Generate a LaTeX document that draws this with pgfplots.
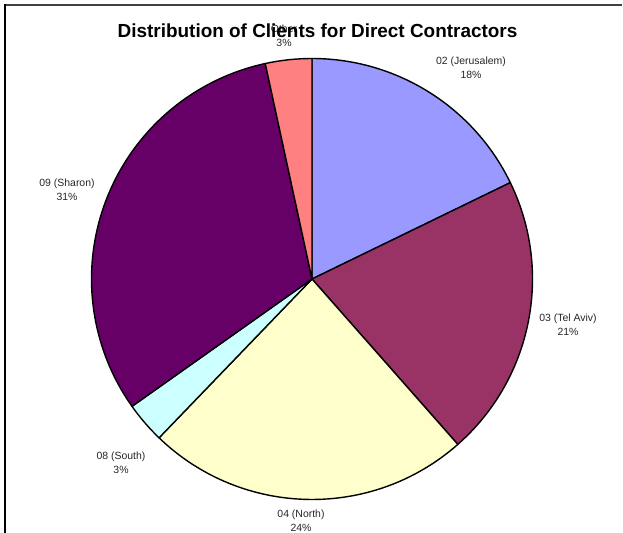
\documentclass[border=0pt]{standalone}
\usepackage{pgfplots}
\usepackage{pgfplotstable}
\pgfplotsset{compat=1.18}
\usepackage{fontspec}
\setmainfont{Liberation Sans}
\definecolor{cJer}{HTML}{9999FF}
\definecolor{cTA}{HTML}{993366}
\definecolor{cNorth}{HTML}{FFFFCC}
\definecolor{cSouth}{HTML}{CCFFFF}
\definecolor{cSharon}{HTML}{660066}
\definecolor{cOther}{HTML}{FF8080}
\pgfplotstableread[col sep=comma]{
value,pct,name,col,lx,ly
17.8,18,02 (Jerusalem),cJer,471,68
20.7,21,03 (Tel Aviv),cTA,568,325
23.7,24,04 (North),cNorth,301,521
3.0,3,08 (South),cSouth,121,463
31.4,31,09 (Sharon),cSharon,67,190
3.4,3,Other,cOther,284,36
}\piedata
\begin{document}
\begin{tikzpicture}
\begin{axis}[at={(0,0)}, anchor=south west, scale only axis,
  width=623bp, height=533bp, xmin=0, xmax=623, ymin=0, ymax=533,
  y dir=reverse, hide axis, clip=false]
\pgfplotsextra{%
  \pgfplotstablegetrowsof{\piedata}%
  \pgfmathtruncatemacro\N{\pgfplotsretval-1}%
  \gdef\cum{0}%
  \foreach \i in {0,...,\N}{%
    \pgfplotstablegetelem{\i}{value}\of\piedata \let\sv\pgfplotsretval
    \pgfplotstablegetelem{\i}{col}\of\piedata \let\scol\pgfplotsretval
    \pgfmathsetmacro\sa{90-3.6*\cum}%
    \pgfmathsetmacro\ea{90-3.6*(\cum+\sv)}%
    \filldraw[fill=\scol, draw=black, line width=1.4bp, line join=round]
      (axis cs:312,279) -- ++(\sa:220.5bp) arc[start angle=\sa, end angle=\ea, radius=220.5bp] -- cycle;
    \pgfmathsetmacro\newcum{\cum+\sv}\xdef\cum{\newcum}%
  }%
  \foreach \i in {0,...,\N}{%
    \pgfplotstablegetelem{\i}{name}\of\piedata \let\sname\pgfplotsretval
    \pgfplotstablegetelem{\i}{pct}\of\piedata \let\spct\pgfplotsretval
    \pgfplotstablegetelem{\i}{lx}\of\piedata \let\slx\pgfplotsretval
    \pgfplotstablegetelem{\i}{ly}\of\piedata \let\sly\pgfplotsretval
    \node[align=center, text=black!85, font=\fontsize{10.5}{14}\selectfont, inner sep=0pt]
      at (axis cs:\slx,\sly) {\sname\\\spct\%};
  }%
}
\node[font=\fontsize{19}{22}\selectfont\bfseries, inner sep=0pt] at (axis cs:317.5,31)
  {Distribution of Clients for Direct Contractors};
\end{axis}
\draw[line width=2bp, black!75] (4bp,527.5bp) -- (622bp,527.5bp);
\draw[line width=1.5bp, black] (4.75bp,0bp) -- (4.75bp,528.5bp);
\pgfresetboundingbox
\path[use as bounding box] (0,0) rectangle (623bp,533bp);
\end{tikzpicture}
\end{document}
